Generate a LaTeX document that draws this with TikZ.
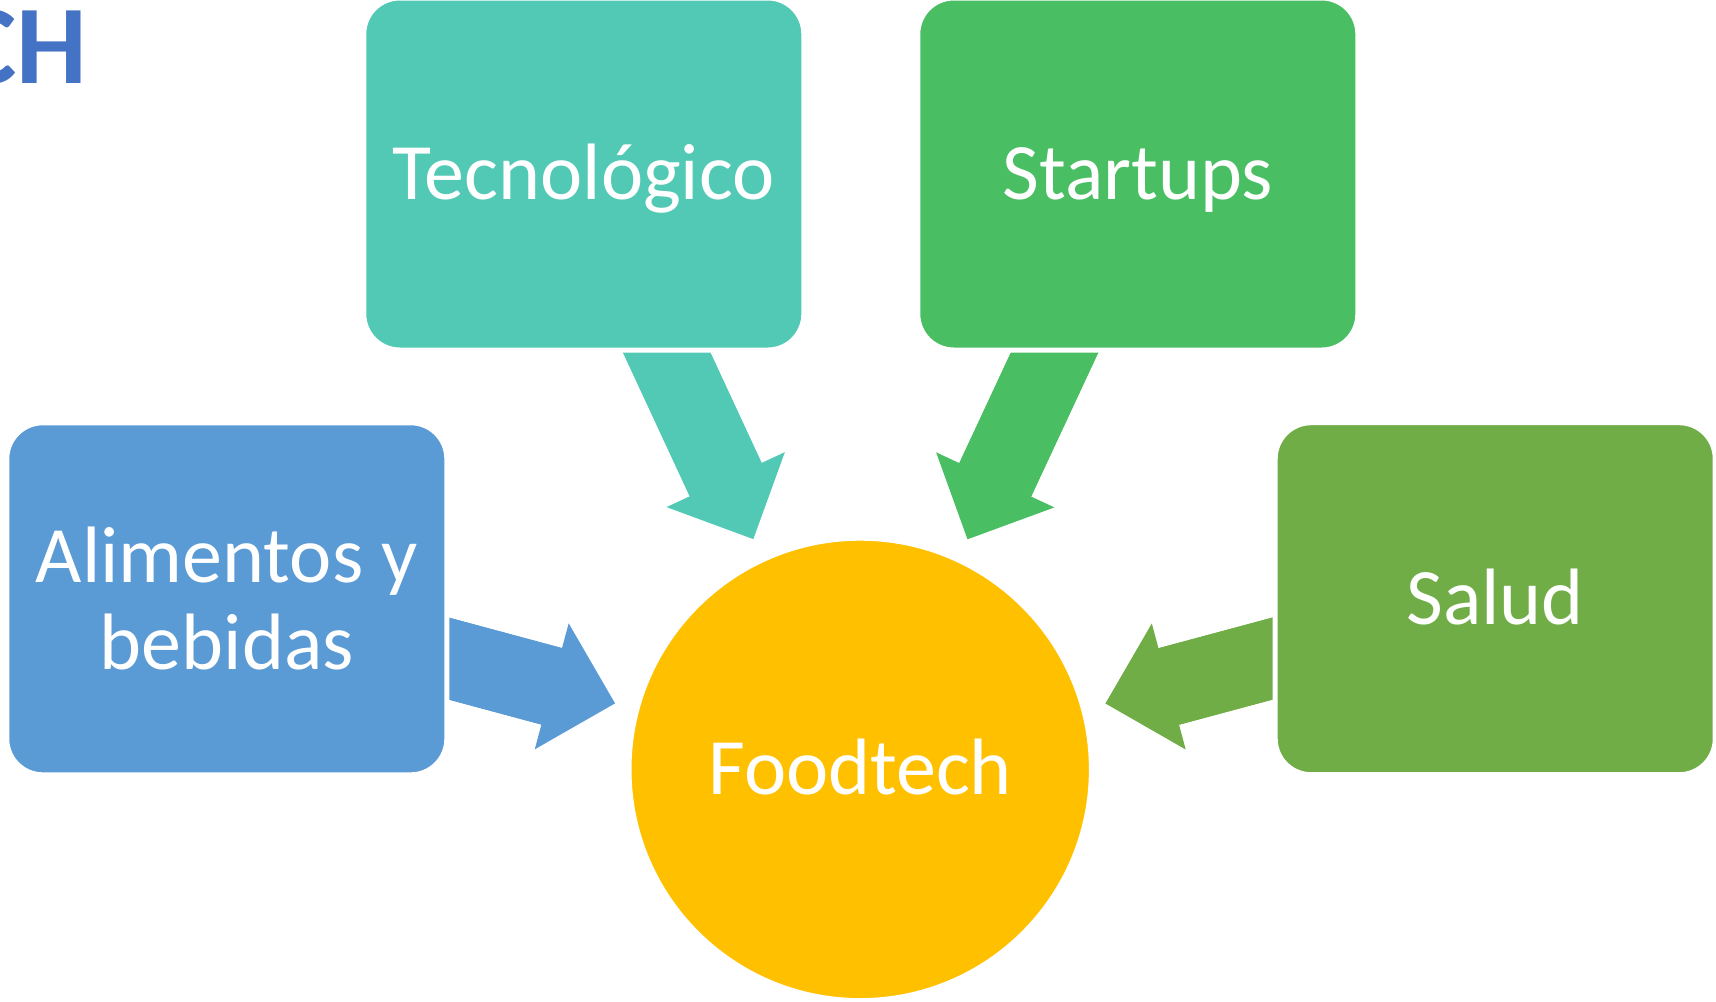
\documentclass[tikz,border=0pt]{standalone}
\usepackage{fontspec}
\setmainfont{Carlito}
\usetikzlibrary{arrows.meta,calc,backgrounds}
\definecolor{c-tecno}{HTML}{52C9B5}
\definecolor{c-startups}{HTML}{4ABE63}
\definecolor{c-alimentos}{HTML}{5B9BD5}
\definecolor{c-salud}{HTML}{70AD47}
\definecolor{c-foodtech}{HTML}{FFC000}
\definecolor{c-titulo}{HTML}{4472C4}
\tikzstyle{every node}=[font=\fontsize{40}{43.3}\selectfont]
\tikzstyle{caja}=[rectangle,rounded corners=18pt,draw=white,line width=2.5pt,minimum width=220pt,minimum height=176pt,inner sep=0pt,text=white,align=center]
\tikzstyle{una linea}=[text height=25.3pt,text depth=0pt]
\tikzstyle{cuerpo}=[line width=39.6pt]
\tikzstyle{flecha}=[cuerpo,-{Triangle[width=65.25pt,length=32.8pt,line width=0pt]}]

\begin{document}
\begin{tikzpicture}[x=0.5pt,y=-0.5pt]
\useasboundingbox (0,0) rectangle (1716,1001);
% cajas
\node[caja,fill=c-tecno,una linea] (tecno) at (583.8,174) {Tecnológico};
\node[caja,fill=c-startups,una linea] (startups) at (1137.8,174) {Startups};
\node[caja,fill=c-alimentos] (alimentos) at (226.8,598.8) {Alimentos y\\bebidas};
\node[caja,fill=c-salud,una linea] (salud) at (1495.2,598.7) {Salud};
\node[circle,fill=c-foodtech,draw=white,line width=2.5pt,minimum size=231.2pt,inner sep=0pt,text=white,una linea] (foodtech) at (860.2,769.4) {Foodtech};
% titulo cortado
\node[anchor=base east,inner sep=0pt,text=c-titulo,font=\bfseries\fontsize{56}{60}\selectfont] (titulo) at (88,83) {CH};
% flechas (cuerpo metido bajo la punta, sin costura)
\begin{scope}[on background layer]
\foreach \caja in {tecno,startups,alimentos,salud}{
  \draw[cuerpo,c-\caja] ($(\caja)!0.2!(foodtech)$) -- ($(foodtech)!153pt!(\caja)$);
  \draw[flecha,c-\caja] ($(\caja)!0.2!(foodtech)$) -- ($(foodtech)!126.95pt!(\caja)$);
}
\end{scope}
\end{tikzpicture}
\end{document}
